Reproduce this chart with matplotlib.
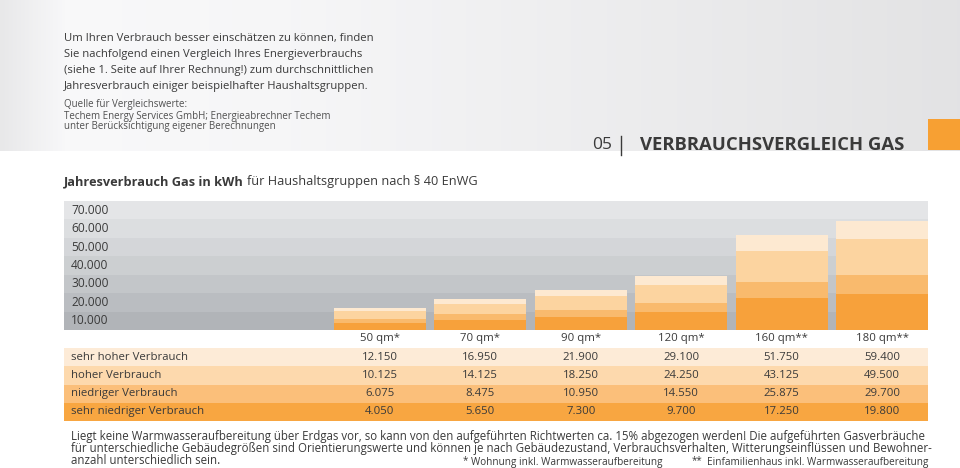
import numpy as np
import matplotlib.pyplot as plt

# ── Daten ─────────────────────────────────────────
groups = ["50 qm*", "70 qm*", "90 qm*", "120 qm*", "160 qm**", "180 qm**"]
levels = ["sehr hoher Verbrauch", "hoher Verbrauch",
          "niedriger Verbrauch", "sehr niedriger Verbrauch"]
sehr_hoch = [12150, 16950, 21900, 29100, 51750, 59400]
hoch = [10125, 14125, 18250, 24250, 43125, 49500]
niedrig = [6075, 8475, 10950, 14550, 25875, 29700]
sehr_niedrig = [4050, 5650, 7300, 9700, 17250, 19800]
y_ticks = [10000, 20000, 30000, 40000, 50000, 60000, 70000]

# ── Layout / Farben ───────────────────────────────
W, H = 960, 468
TXT = "#3a3a3a"
FONT = "Open Sans"
bar_colors = ["#fde9d1", "#fcd4a0", "#f9ba6d", "#f7a13b"]
row_colors = ["#fdebd7", "#fdd9ad", "#fbbf7a", "#f8a641"]
band_colors = ["#b1b4b8", "#babdc1", "#c3c6c9", "#cccfd1",
               "#d4d6d9", "#dcdee0", "#e4e5e7"]

plt.rcParams["font.family"] = [FONT, "DejaVu Sans"]


def fx(x):
    return x / W


def fy(y):
    return 1 - y / H


def de(v):
    return f"{v:,}".replace(",", ".")


fig = plt.figure(figsize=(W / 100, H / 100), dpi=100)
fig.patch.set_facecolor("white")

# Hintergrund oben (Verlauf)
bg = fig.add_axes([0, fy(151), 1, 151 / H])
grad = np.interp(np.linspace(0, 1, 400), [0, 0.07, 0.3, 1.0], [0.91, 0.975, 0.965, 0.89])
bg.imshow(np.dstack([grad, grad, grad + 0.005]).clip(0, 1),
          aspect="auto", extent=[0, 1, 0, 1])
bg.axis("off")

# Orange Quadrat
fig.patches.append(plt.Rectangle((fx(928), fy(150)), 32 / W, 31 / H,
                                 transform=fig.transFigure, color="#f7a033", lw=0))

# Einleitungstext
intro = ["Um Ihren Verbrauch besser einschätzen zu können, finden",
         "Sie nachfolgend einen Vergleich Ihres Energieverbrauchs",
         "(siehe 1. Seite auf Ihrer Rechnung!) zum durchschnittlichen",
         "Jahresverbrauch einiger beispielhafter Haushaltsgruppen."]
for i, line in enumerate(intro):
    fig.text(fx(64), fy(38 + 16 * i), line, fontsize=8.15, color=TXT, va="center")

fig.text(fx(64), fy(104), "Quelle für Vergleichswerte:", fontsize=7.0, color="#505050", va="center")
fig.text(fx(64), fy(117), "Techem Energy Services GmbH; Energieabrechner Techem",
         fontsize=7.0, color="#505050", va="center")
fig.text(fx(64), fy(127), "unter Berücksichtigung eigener Berechnungen",
         fontsize=7.0, color="#505050", va="center")

# Titel
fig.text(fx(592), fy(145), "05", fontsize=12.5, color=TXT, va="center")
fig.add_artist(plt.Line2D([fx(621), fx(621)], [fy(136), fy(155)], color=TXT, lw=1.0))
fig.text(fx(904), fy(145), "VERBRAUCHSVERGLEICH GAS", fontsize=13.3, color=TXT,
         va="center", ha="right", fontweight="bold")

# Diagrammüberschrift
t = fig.text(fx(64), fy(182), "Jahresverbrauch Gas in kWh", fontsize=9.2, color=TXT,
             va="center", fontweight="bold")
fig.canvas.draw()
bb = t.get_window_extent()
fig.text(bb.x1 / W + 3 / W, fy(182), "für Haushaltsgruppen nach § 40 EnWG",
         fontsize=9.2, color=TXT, va="center")

# ── Balkendiagramm ────────────────────────────────
x = np.arange(len(groups))
xlim = (-3.147, 5.458)
ax = fig.add_axes([fx(64), fy(330), 864 / W, 129 / H])
ax.set_xlim(*xlim)
ax.set_ylim(0, 70000)
for i, c in enumerate(band_colors):
    ax.axhspan(i * 10000, (i + 1) * 10000, color=c, lw=0)
for v in y_ticks:
    ax.text(7 / 864, v - 5000, de(v), transform=ax.get_yaxis_transform(),
            fontsize=8.6, color=TXT, va="center")
for vals, c in zip([sehr_hoch, hoch, niedrig, sehr_niedrig], bar_colors):
    ax.bar(x, vals, width=0.916, color=c, lw=0)
ax.axis("off")

# ── Tabelle ───────────────────────────────────────
tab = fig.add_axes([fx(64), fy(421), 864 / W, 91 / H])
tab.set_xlim(*xlim)
tab.set_ylim(5, 0)
for i, g in enumerate(groups):
    tab.text(x[i], 0.45, g, ha="center", va="center", fontsize=8.2, color=TXT)
for r, (name, vals) in enumerate(zip(levels, [sehr_hoch, hoch, niedrig, sehr_niedrig])):
    tab.axhspan(r + 1, r + 2, color=row_colors[r], lw=0)
    tab.text(7 / 864, r + 1.5, name, transform=tab.get_yaxis_transform(),
             fontsize=8.2, color=TXT, va="center")
    for i, v in enumerate(vals):
        tab.text(x[i], r + 1.5, de(v), ha="center", va="center", fontsize=8.2, color=TXT)
tab.axis("off")

# ── Fußtext ───────────────────────────────────────
foot = ["Liegt keine Warmwasseraufbereitung über Erdgas vor, so kann von den aufgeführten "
        "Richtwerten ca. 15% abgezogen werden! Die aufgeführten Gasverbräuche",
        "für unterschiedliche Gebäudegrößen sind Orientierungswerte und können je nach "
        "Gebäudezustand, Verbrauchsverhalten, Witterungseinflüssen und Bewohner-",
        "anzahl unterschiedlich sein."]
for i, line in enumerate(foot):
    fig.text(fx(71), fy(436.5 + 12 * i), line, fontsize=8.3, color=TXT, va="center")
fig.text(fx(463), fy(463), "*", fontsize=7.0, color=TXT, va="baseline")
fig.text(fx(471), fy(465), "Wohnung inkl. Warmwasseraufbereitung", fontsize=7.2, color=TXT,
         va="baseline")
fig.text(fx(692), fy(463), "**", fontsize=7.0, color=TXT, va="baseline")
fig.text(fx(928), fy(465), "Einfamilienhaus inkl. Warmwasseraufbereitung", fontsize=7.2,
         color=TXT, va="baseline", ha="right")

fig.savefig("out.png", dpi=100)
